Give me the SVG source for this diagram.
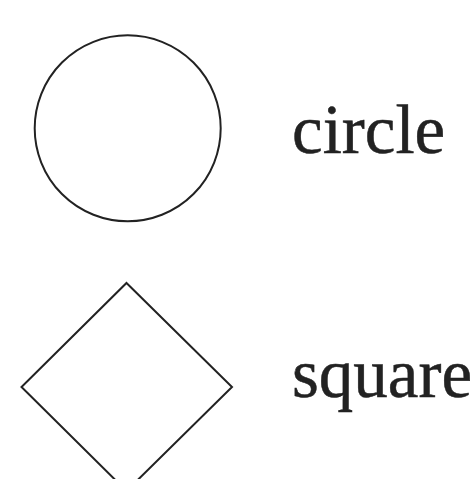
<svg xmlns="http://www.w3.org/2000/svg" width="476" height="479" viewBox="0 0 476 479">
<style>
.shape{fill:none;stroke:#222;stroke-width:2}
.lbl{font-family:"Liberation Serif","Times New Roman",serif;font-size:69px;fill:#222;stroke:#222;stroke-width:0.5}
</style>
<rect width="476" height="479" fill="#fff"/>
<g id="circle">
<circle class="shape" cx="127.7" cy="128.3" r="93"/>
<text class="lbl" x="292" y="153">circle</text>
</g>
<g id="square">
<polygon class="shape" points="126.5,283 232,387 126.5,491 21.5,387"/>
<text class="lbl" x="292" y="397">square</text>
</g>
<g id="connectors"/>
</svg>
